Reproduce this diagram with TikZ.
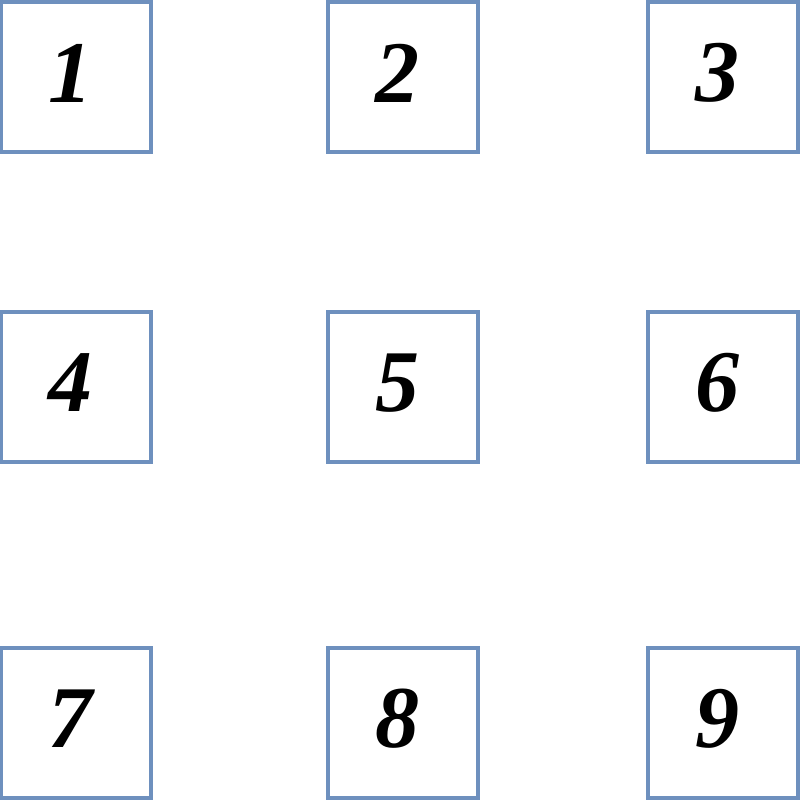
\documentclass[tikz,border=0pt]{standalone}
\usepackage{fontspec}
\newfontfamily\digitfont{Liberation Serif}[BoldItalicFont={* Bold Italic}]
\definecolor{boxblue}{RGB}{110,144,190}
\tikzset{
  cell/.style={draw=boxblue, line width=4pt, minimum width=150pt, minimum height=150pt, inner sep=0pt, fill=white},
  digit/.style={font=\digitfont\fontsize{88}{88}\selectfont\bfseries\itshape, inner sep=0pt}
}
\begin{document}
\begin{tikzpicture}[x=1pt,y=-1pt]
\useasboundingbox (0,0) rectangle (800,800);
\foreach \n/\cx/\cy in {1/76/77,2/403/77,3/723/77,4/76/387,5/403/387,6/723/387,7/76/723,8/403/723,9/723/723}{
  \node[cell] (b\n) at (\cx,\cy) {};
  \node[digit] (d\n) at ([xshift=-6pt,yshift=4pt]b\n.center) {\n};
}
\end{tikzpicture}
\end{document}
